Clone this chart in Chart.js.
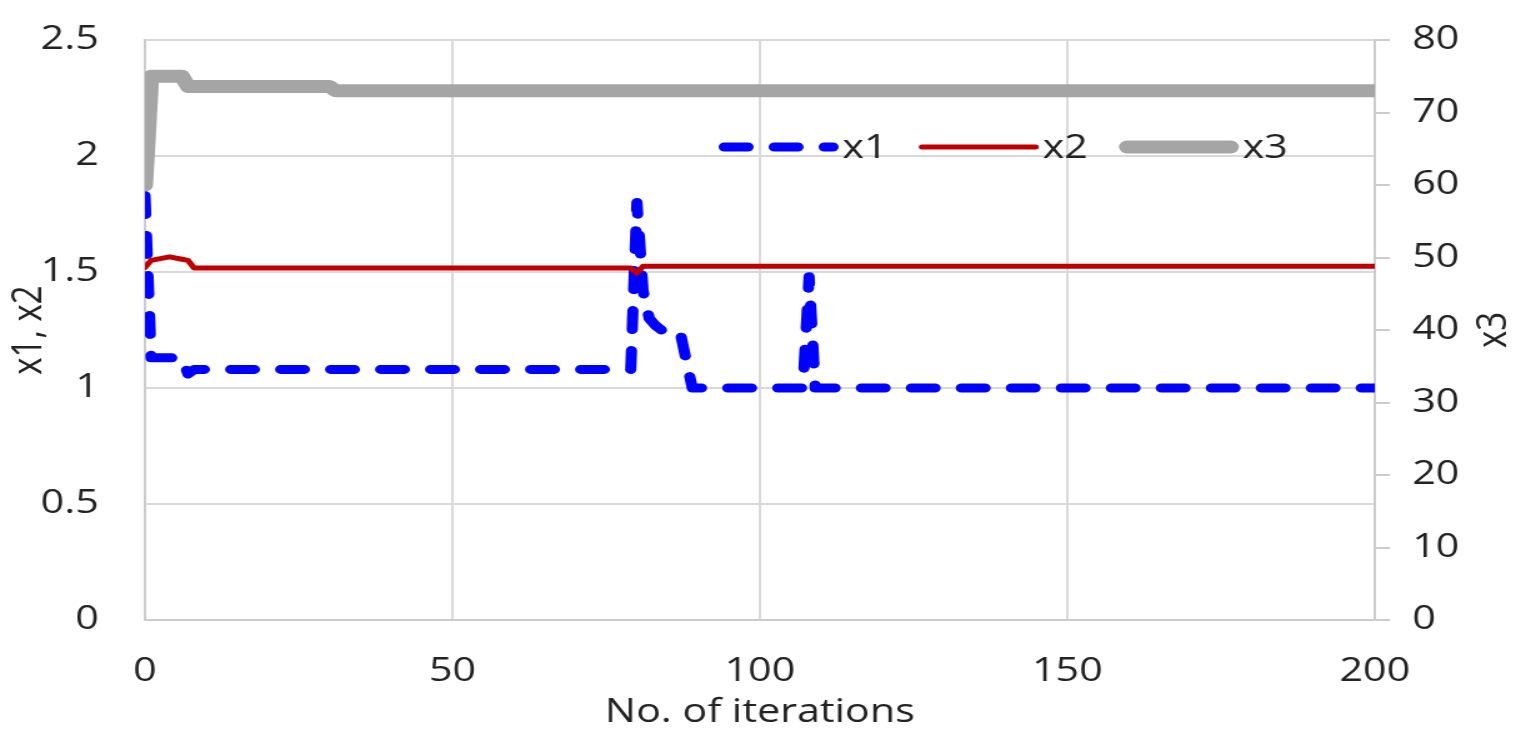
<!DOCTYPE html>
<html>
<head>
<meta charset="utf-8">
<script src="https://cdn.jsdelivr.net/npm/chart.js@4.4.0/dist/chart.umd.min.js"></script>
<style>
    html, body { margin: 0; padding: 0; background: #fff; overflow: hidden; }
    /* the original figure is stretched sideways, so the canvas is drawn narrow and scaled up */
    #chart { display: block; width: 1531px !important; height: 749px !important; }
</style>
</head>
<body>
<canvas id="chart" width="1225" height="749"></canvas>
<script>
// Series: iteration where the value changes, and the value there
const iterX1 = [0, 1, 6, 7, 8, 79, 80, 81, 82, 83, 84, 87, 89, 107, 108, 109, 200];
const valX1 = [1.83, 1.13, 1.13, 1.06, 1.08, 1.08, 1.80, 1.42, 1.30, 1.27, 1.25, 1.245, 1.0, 1.0, 1.48, 1.0, 1.0];

const iterX2 = [0, 1, 4, 6, 7, 8, 79, 80, 81, 200];
const valX2 = [1.52, 1.55, 1.565, 1.555, 1.55, 1.517, 1.517, 1.495, 1.525, 1.525];

const iterX3 = [0, 1, 6, 7, 30, 31, 200];
const valX3 = [60, 75, 75, 73.6, 73.6, 73.0, 73.0];

// Axis ranges and titles
const xRange = [0, 200, 50];
const leftRange = [0, 2.5, 0.5];
const rightRange = [0, 80, 10];
const xTitle = 'No. of iterations';
const leftTitle = 'x1, x2';
const rightTitle = 'x3';

const FONT = '"Open Sans", "Noto Sans", sans-serif';
const FONT_SIZE = 33;
const TEXT_COLOR = '#222222';
const GRID_COLOR = '#d9d9d9';
const AXIS_COLOR = '#cccccc';

function toPoints(xs, ys) {
    return xs.map((x, i) => ({ x: x, y: ys[i] }));
}

// Fixed axis sizes so the plot area lands where the original has it
function fixWidth(width) {
    return scale => {
        scale.width = width;
        scale.paddingTop = 0;
        scale.paddingBottom = 0;
    };
}

// Legend sits inside the plot, lines then labels
const inlineLegend = {
    id: 'inlineLegend',
    afterDraw(chart) {
        const ctx = chart.ctx;
        const y = 147;
        const sampleWidth = 96;
        let x = 575;
        ctx.save();
        ctx.font = FONT_SIZE + 'px ' + FONT;
        ctx.fillStyle = TEXT_COLOR;
        ctx.textBaseline = 'middle';
        chart.data.datasets.forEach(ds => {
            const r = ds.borderWidth / 2;
            ctx.beginPath();
            ctx.lineWidth = ds.borderWidth;
            ctx.strokeStyle = ds.borderColor;
            ctx.lineCap = 'round';
            ctx.setLineDash(ds.borderDash || []);
            ctx.moveTo(x + r, y);
            ctx.lineTo(x + sampleWidth - r, y);
            ctx.stroke();
            ctx.setLineDash([]);
            ctx.fillText(ds.label, x + sampleWidth + 3, y + 2);
            x += sampleWidth + 3 + ctx.measureText(ds.label).width + 25;
        });
        ctx.restore();
    }
};

// Right axis title reads bottom to top, like the left one
const rightAxisTitle = {
    id: 'rightAxisTitle',
    afterDraw(chart) {
        const ctx = chart.ctx;
        const area = chart.chartArea;
        ctx.save();
        ctx.font = FONT_SIZE + 'px ' + FONT;
        ctx.fillStyle = TEXT_COLOR;
        ctx.translate(1205, (area.top + area.bottom) / 2);
        ctx.rotate(-Math.PI / 2);
        ctx.textAlign = 'center';
        ctx.textBaseline = 'alphabetic';
        ctx.fillText(rightTitle, 0, 0);
        ctx.restore();
    }
};

const ctx = document.getElementById('chart').getContext('2d');

new Chart(ctx, {
    type: 'line',
    data: {
        datasets: [{
            label: 'x1',
            data: toPoints(iterX1, valX1),
            yAxisID: 'y',
            borderColor: '#0000ff',
            borderWidth: 9,
            borderDash: [19, 21],
            borderCapStyle: 'round',
            borderJoinStyle: 'round',
            order: 3
        }, {
            label: 'x2',
            data: toPoints(iterX2, valX2),
            yAxisID: 'y',
            borderColor: '#c00000',
            borderWidth: 5,
            borderCapStyle: 'round',
            borderJoinStyle: 'round',
            order: 2
        }, {
            label: 'x3',
            data: toPoints(iterX3, valX3),
            yAxisID: 'y1',
            borderColor: '#a5a5a5',
            borderWidth: 13,
            borderCapStyle: 'round',
            borderJoinStyle: 'round',
            order: 1
        }]
    },
    options: {
        responsive: false,
        devicePixelRatio: 1,
        animation: false,
        layout: {
            padding: { top: 40, right: 0, bottom: 0, left: 0 }
        },
        elements: {
            point: { radius: 0 },
            line: { tension: 0, fill: false }
        },
        plugins: {
            legend: { display: false },
            tooltip: { enabled: false }
        },
        scales: {
            x: {
                type: 'linear',
                min: xRange[0],
                max: xRange[1],
                afterFit: scale => { scale.height = 129; },
                ticks: {
                    stepSize: xRange[2],
                    padding: 32,
                    color: TEXT_COLOR,
                    font: { family: FONT, size: FONT_SIZE }
                },
                grid: { color: GRID_COLOR, lineWidth: 2, drawTicks: false },
                border: { color: AXIS_COLOR, width: 2 },
                title: {
                    display: true,
                    text: xTitle,
                    color: TEXT_COLOR,
                    font: { family: FONT, size: FONT_SIZE },
                    padding: { top: 0, bottom: 17 }
                }
            },
            y: {
                position: 'left',
                min: leftRange[0],
                max: leftRange[1],
                afterFit: fixWidth(116),
                ticks: {
                    stepSize: leftRange[2],
                    padding: 37,
                    color: TEXT_COLOR,
                    font: { family: FONT, size: FONT_SIZE },
                    callback: value => String(value)
                },
                grid: { color: GRID_COLOR, lineWidth: 2, drawTicks: false },
                border: { color: AXIS_COLOR, width: 2 },
                title: {
                    display: true,
                    text: leftTitle,
                    color: TEXT_COLOR,
                    font: { family: FONT, size: FONT_SIZE },
                    padding: { top: 4, bottom: 0 }
                }
            },
            y1: {
                position: 'right',
                min: rightRange[0],
                max: rightRange[1],
                afterFit: fixWidth(125),
                ticks: {
                    stepSize: rightRange[2],
                    padding: 18,
                    color: TEXT_COLOR,
                    font: { family: FONT, size: FONT_SIZE }
                },
                grid: {
                    drawOnChartArea: false,
                    color: AXIS_COLOR,
                    lineWidth: 2,
                    tickLength: 12
                },
                border: { color: AXIS_COLOR, width: 2 }
            }
        }
    },
    plugins: [inlineLegend, rightAxisTitle]
});
</script>
</body>
</html>
